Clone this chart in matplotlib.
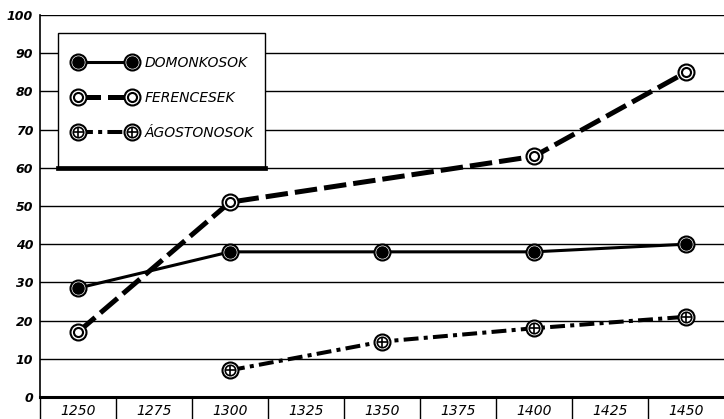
import matplotlib
matplotlib.use("Agg")
import matplotlib.pyplot as plt
from matplotlib.lines import Line2D
from matplotlib.patches import Rectangle
import numpy as np

years = [1250, 1275, 1300, 1325, 1350, 1375, 1400, 1425, 1450]

dom_x = [1250, 1300, 1350, 1400, 1450]
dom_y = [28.5, 38, 38, 38, 40]

fer_x = [1250, 1300, 1400, 1450]
fer_y = [17, 51, 63, 85]

ago_x = [1300, 1350, 1400, 1450]
ago_y = [7, 14.5, 18, 21]

labels = ["DOMONKOSOK", "FERENCESEK", "ÁGOSTONOSOK"]
yticks = [0, 10, 20, 30, 40, 50, 60, 70, 80, 90, 100]

plt.rcParams['font.family'] = ['DejaVu Sans']

fig = plt.figure(figsize=(7.24, 4.19), dpi=100)
W, H = 724, 419
ax = fig.add_axes([40 / W, (H - 397) / H, (724 - 40) / W, (397 - 15) / H])

ax.set_xlim(years[0] - 12.5, years[-1] + 12.5)
ax.set_ylim(0, 100)

for y in yticks[1:]:
    ax.axhline(y, color='black', lw=1.0, zorder=1)

ax.spines['right'].set_visible(False)
ax.spines['top'].set_visible(False)
ax.spines['left'].set_linewidth(1.2)
ax.spines['bottom'].set_linewidth(2.2)

# tick separators below the x-axis
bounds = [y + 12.5 for y in years[:-1]]
ax.vlines([years[0] - 12.5] + bounds, -6, 0, colors='black', lw=1.0, clip_on=False)

ax.set_xticks(years)
ax.set_xticklabels([str(y) for y in years], fontstyle='italic', fontsize=10)
ax.set_yticks(yticks)
ax.set_yticklabels([str(y) for y in yticks], fontstyle='italic', fontsize=9, fontweight='bold')
ax.tick_params(axis='both', length=0)
ax.tick_params(axis='x', pad=5)
ax.tick_params(axis='y', pad=5)


def series(x, y, ls, lw, kind):
    l1, = ax.plot(x, y, color='black', lw=lw, linestyle=ls, marker='o', ms=11.5,
                  mfc='white', mec='black', mew=1.5, zorder=3)
    if kind == 'dom':
        l2, = ax.plot(x, y, linestyle='none', marker='o', ms=8, mfc='black',
                      mec='black', zorder=4)
        return (l1, l2)
    elif kind == 'fer':
        l2, = ax.plot(x, y, linestyle='none', marker='o', ms=6.5, mfc='white',
                      mec='black', mew=1.5, zorder=4)
        return (l1, l2)
    else:
        l2, = ax.plot(x, y, linestyle='none', marker='o', ms=7.5, mfc='white',
                      mec='black', mew=1.2, zorder=4)
        l3, = ax.plot(x, y, linestyle='none', marker='+', ms=6.5, mec='black',
                      mew=1.2, zorder=5)
        return (l1, l2, l3)


h1 = series(dom_x, dom_y, '-', 2.2, 'dom')
h2 = series(fer_x, fer_y, (0, (4.5, 1.4)), 3.6, 'fer')
h3 = series(ago_x, ago_y, (0, (3.7, 1.3, 1.0, 1.3)), 2.9, 'ago')

# legend box
ax.add_patch(Rectangle((0.026, 0.600), 0.303, 0.353, transform=ax.transAxes,
                       facecolor='white', edgecolor='black', lw=1.0, zorder=6))
ax.add_artist(Line2D([0.026, 0.329], [0.600, 0.600], transform=ax.transAxes,
                     color='black', lw=3.4, zorder=7))

fs = 10
hl_px = 61.5
leg = ax.legend([h1, h2, h3], labels, loc='upper left',
                bbox_to_anchor=(0.050, 0.892), borderaxespad=0,
                numpoints=2, handlelength=hl_px / (fs * 100 / 72),
                handletextpad=9.0 / (fs * 100 / 72),
                labelspacing=1.5, borderpad=0, frameon=False,
                prop={'style': 'italic', 'size': fs})
leg.set_zorder(8)

fig.savefig("out.png", dpi=100)
